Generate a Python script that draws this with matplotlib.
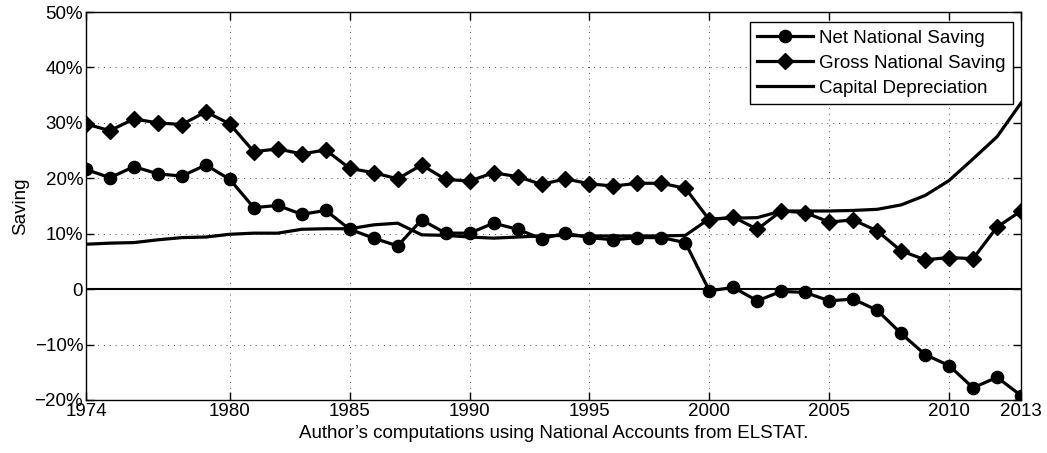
import numpy as np
import matplotlib
matplotlib.use('Agg')
import matplotlib.pyplot as plt
from matplotlib.ticker import FuncFormatter

plt.rcParams['font.family'] = ['Liberation Sans', 'DejaVu Sans']

years = list(range(1974, 2014))

net_saving = [21.6, 20.1, 22.1, 20.8, 20.4, 22.4, 19.8, 14.7, 15.1, 13.5,
              14.2, 10.8, 9.2, 7.8, 12.5, 10.1, 10.1, 11.9, 10.8, 9.1,
              10.1, 9.3, 8.9, 9.3, 9.3, 8.4, -0.3, 0.3, -2.1, -0.4,
              -0.6, -2.1, -1.8, -3.8, -8.0, -11.8, -13.8, -17.8, -15.9, -19.2]

gross_saving = [29.8, 28.6, 30.7, 30.0, 29.7, 32.0, 29.8, 24.8, 25.3, 24.4,
                25.1, 21.8, 21.0, 19.9, 22.4, 19.8, 19.5, 21.0, 20.3, 18.9,
                19.9, 19.0, 18.6, 19.1, 19.1, 18.2, 12.5, 13.0, 10.8, 14.1,
                13.8, 12.1, 12.5, 10.5, 6.9, 5.3, 5.7, 5.5, 11.2, 14.1]

capital_dep = [8.1, 8.3, 8.4, 8.9, 9.3, 9.4, 9.9, 10.1, 10.1, 10.8,
               10.9, 10.9, 11.6, 11.9, 9.8, 9.7, 9.4, 9.2, 9.4, 9.6,
               9.7, 9.6, 9.6, 9.6, 9.6, 9.7, 12.7, 12.8, 12.9, 14.1,
               14.1, 14.1, 14.2, 14.4, 15.2, 16.9, 19.6, 23.5, 27.5, 33.6]

x_ticks = [1974, 1980, 1985, 1990, 1995, 2000, 2005, 2010, 2013]
y_ticks = [-20, -10, 0, 10, 20, 30, 40, 50]

fs = 13.5

fig = plt.figure(figsize=(10.47, 4.53), dpi=100)
ax = fig.add_axes([0.0821, 0.117, 0.8931, 0.8565])

ax.plot(years, net_saving, color='black', lw=2.3, marker='o', ms=8.8,
        label='Net National Saving', zorder=3)
ax.plot(years, gross_saving, color='black', lw=2.3, marker='D', ms=8.3,
        label='Gross National Saving', zorder=3)
ax.plot(years, capital_dep, color='black', lw=2.3,
        label='Capital Depreciation', zorder=3)
ax.axhline(0, color='black', lw=1.5, zorder=2)

ax.set_xlim(1974, 2013)
ax.set_ylim(-20, 50)
ax.set_xticks(x_ticks)
ax.set_yticks(y_ticks)
ax.yaxis.set_major_formatter(
    FuncFormatter(lambda v, p: '0' if v == 0 else ('%d%%' % v).replace('-', '\u2212')))
ax.tick_params(direction='in', length=6, width=1, top=True, right=True,
               labelsize=fs, pad=2)
ax.grid(True, color='black', linestyle=(0, (1, 5)), lw=0.7, alpha=0.7)
for s in ax.spines.values():
    s.set_linewidth(1.0)

ax.set_ylabel('Saving', fontsize=fs, labelpad=4)
ax.set_xlabel('Author\u2019s computations using National Accounts from ELSTAT.',
              fontsize=fs, labelpad=4)

leg = ax.legend(loc='upper right', bbox_to_anchor=(1013 / 1047, (453 - 22) / 453),
                bbox_transform=fig.transFigure, fontsize=fs, frameon=True,
                fancybox=False, edgecolor='black', framealpha=1,
                handlelength=3.0, borderpad=0.4, labelspacing=0.42,
                handletextpad=0.3, borderaxespad=0)
leg.get_frame().set_linewidth(1.0)

fig.savefig('out.png', dpi=100)
